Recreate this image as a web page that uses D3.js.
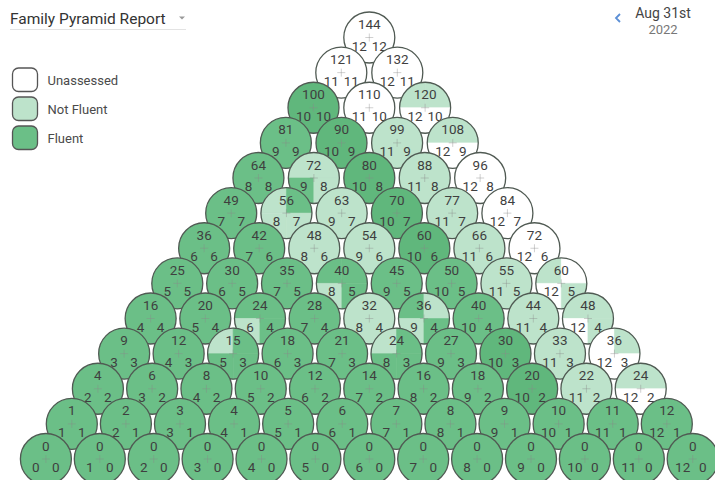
<!DOCTYPE html>
<html>
<head>
<meta charset="utf-8">
<script src="https://cdn.jsdelivr.net/npm/d3@7"></script>
<style>
  body { margin: 0; background: #fff; font-family: Roboto, "Noto Sans", sans-serif; }
</style>
</head>
<body>
<svg id="chart" width="715" height="480"></svg>
<script>
// second factor of each row, top of the pyramid first
const rowFactors = [12, 11, 10, 9, 8, 7, 6, 5, 4, 3, 2, 1, 0];

// products shown on top of each circle (left to right)
const rowProducts = [
  [144],
  [121, 132],
  [100, 110, 120],
  [81, 90, 99, 108],
  [64, 72, 80, 88, 96],
  [49, 56, 63, 70, 77, 84],
  [36, 42, 48, 54, 60, 66, 72],
  [25, 30, 35, 40, 45, 50, 55, 60],
  [16, 20, 24, 28, 32, 36, 40, 44, 48],
  [9, 12, 15, 18, 21, 24, 27, 30, 33, 36],
  [4, 6, 8, 10, 12, 14, 16, 18, 20, 22, 24],
  [1, 2, 3, 4, 5, 6, 7, 8, 9, 10, 11, 12],
  [0, 0, 0, 0, 0, 0, 0, 0, 0, 0, 0, 0, 0]
];

// status per circle: one letter = whole circle, four letters = TL TR BL BR quarters
// U = unassessed, N = not fluent, F = fluent, D = fluent (darker shade in the screenshot)
const rowStatus = [
  ['U'],
  ['U', 'U'],
  ['D', 'U', 'NNUU'],
  ['F', 'D', 'N', 'NNUU'],
  ['F', 'NNFN', 'D', 'N', 'U'],
  ['F', 'NFNN', 'N', 'D', 'N', 'U'],
  ['F', 'F', 'N', 'N', 'D', 'N', 'U'],
  ['F', 'F', 'F', 'FFNF', 'F', 'F', 'N', 'NUUN'],
  ['F', 'F', 'FFNF', 'F', 'N', 'FNNF', 'F', 'N', 'NNUN'],
  ['F', 'F', 'NFFF', 'F', 'F', 'NFFF', 'F', 'D', 'N', 'UNUU'],
  ['F', 'F', 'F', 'F', 'F', 'F', 'F', 'F', 'D', 'N', 'NNUU'],
  ['F', 'F', 'F', 'F', 'F', 'F', 'F', 'F', 'F', 'F', 'F', 'F'],
  ['F', 'F', 'F', 'F', 'F', 'F', 'F', 'F', 'F', 'F', 'F', 'F', 'F']
];

const legendLabels = ['Unassessed', 'Not Fluent', 'Fluent'];
const legendKeys = ['U', 'N', 'F'];
const titleText = 'Family Pyramid Report';
const dateText = 'Aug 31st';
const yearText = '2022';

const colors = { U: '#ffffff', N: '#bde3cb', F: '#6bbf87', D: '#60b77c' };
const maxFactor = 12;
const radius = 25.5;
const centerX = 369.3;
const numberSize = 13.5;

const svg = d3.select('#chart');

const yScale = d3.scaleLinear().domain([0, maxFactor]).range([459, 37.5]);
const spacing = d3.scaleLinear().domain([0, maxFactor]).range([53.9, 56.2]);

const arc = d3.arc().innerRadius(0).outerRadius(radius);
// TL TR BL BR
const quarterAngles = [
  [1.5 * Math.PI, 2 * Math.PI],
  [0, 0.5 * Math.PI],
  [Math.PI, 1.5 * Math.PI],
  [0.5 * Math.PI, Math.PI]
];

const facts = [];
rowFactors.forEach((b, r) => {
  const n = rowProducts[r].length;
  const half = (maxFactor - b) / 2 * spacing(b);
  const xScale = d3.scaleLinear()
    .domain([b, maxFactor])
    .range([centerX - half, centerX + half]);
  rowProducts[r].forEach((p, i) => {
    const a = maxFactor - n + 1 + i;
    const s = rowStatus[r][i];
    facts.push({
      a, b, p,
      x: xScale(a),
      y: yScale(b),
      whole: s.length === 1 ? s : null,
      quarters: s.length === 1 ? [] : s.split('')
    });
  });
});

const circles = svg.append('g')
  .attr('class', 'pyramid')
  .selectAll('.fact')
  .data(facts)
  .enter()
  .append('g')
  .attr('class', 'fact')
  .attr('transform', d => `translate(${d.x}, ${d.y})`);

circles.append('circle')
  .attr('r', radius)
  .attr('fill', d => colors[d.whole || 'U']);

circles.selectAll('.quarter')
  .data(d => d.quarters.map((q, k) => ({ q, k })))
  .enter()
  .append('path')
  .attr('class', 'quarter')
  .attr('d', d => arc({ startAngle: quarterAngles[d.k][0], endAngle: quarterAngles[d.k][1] }))
  .attr('fill', d => colors[d.q])
  .attr('stroke', d => colors[d.q])
  .attr('stroke-width', 0.6);

circles.append('circle')
  .attr('r', radius)
  .attr('fill', 'none')
  .attr('stroke', '#505a53')
  .attr('stroke-width', 1.3);

// small cross in the middle
circles.append('path')
  .attr('d', 'M-4,0H4M0,-4V4')
  .attr('stroke', '#8a8a8a')
  .attr('stroke-opacity', 0.4)
  .attr('stroke-width', 1);

circles.append('text')
  .attr('y', -8.5)
  .attr('text-anchor', 'middle')
  .attr('font-size', numberSize)
  .attr('fill', '#3f3f3f')
  .text(d => d.p);

circles.append('text')
  .attr('x', -10)
  .attr('y', 13)
  .attr('text-anchor', 'middle')
  .attr('font-size', numberSize)
  .attr('fill', '#3f3f3f')
  .text(d => d.a);

circles.append('text')
  .attr('x', 10)
  .attr('y', 13)
  .attr('text-anchor', 'middle')
  .attr('font-size', numberSize)
  .attr('fill', '#3f3f3f')
  .text(d => d.b);

// legend
const legend = svg.append('g')
  .attr('class', 'legend')
  .attr('transform', 'translate(12.5, 68)');

const legendItems = legend.selectAll('.item')
  .data(legendKeys)
  .enter()
  .append('g')
  .attr('class', 'item')
  .attr('transform', (d, i) => `translate(0, ${i * 29})`);

legendItems.append('rect')
  .attr('width', 25)
  .attr('height', 23.5)
  .attr('rx', 6)
  .attr('fill', d => colors[d])
  .attr('stroke', '#555')
  .attr('stroke-width', 1.3);

legendItems.append('text')
  .attr('x', 35)
  .attr('y', 16.5)
  .attr('font-size', 13)
  .attr('fill', '#4a4a4a')
  .text((d, i) => legendLabels[i]);

// title with dropdown
svg.append('text')
  .attr('x', 10)
  .attr('y', 24)
  .attr('font-size', 15.5)
  .attr('fill', '#333')
  .text(titleText);

svg.append('path')
  .attr('d', 'M179,16.5h6l-3,3z')
  .attr('fill', '#999');

svg.append('line')
  .attr('x1', 10)
  .attr('x2', 186)
  .attr('y1', 29.5)
  .attr('y2', 29.5)
  .attr('stroke', '#e3e3e3')
  .attr('stroke-width', 1);

// date picker
svg.append('path')
  .attr('d', 'M620,14l-4,4l4,4')
  .attr('fill', 'none')
  .attr('stroke', '#5b8fd6')
  .attr('stroke-width', 1.8);

svg.append('text')
  .attr('x', 663)
  .attr('y', 18)
  .attr('text-anchor', 'middle')
  .attr('font-size', 14)
  .attr('fill', '#444')
  .text(dateText);

svg.append('text')
  .attr('x', 663)
  .attr('y', 34)
  .attr('text-anchor', 'middle')
  .attr('font-size', 13)
  .attr('fill', '#777')
  .text(yearText);
</script>
</body>
</html>
